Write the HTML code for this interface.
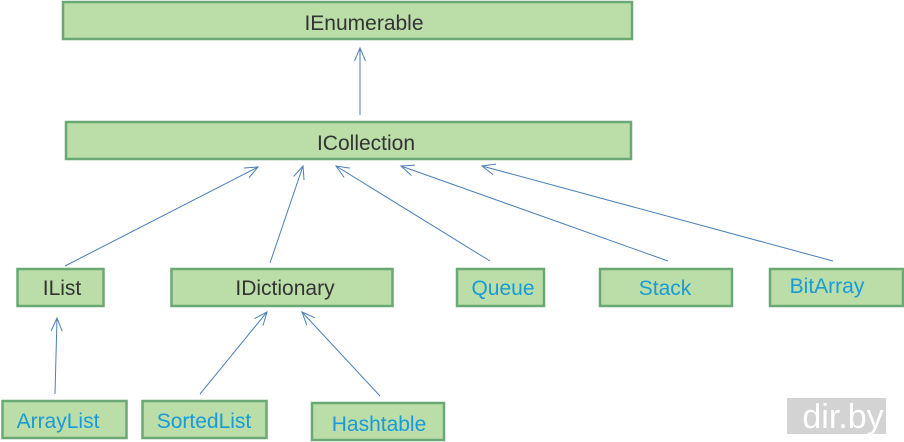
<!DOCTYPE html>
<html><head><meta charset="utf-8"><style>
html,body{margin:0;padding:0;background:#fff;}
svg{display:block;}
text{font-family:"Liberation Sans",Arial,sans-serif;font-size:21px;}
</style></head><body>
<svg width="904" height="442" viewBox="0 0 904 442" xmlns="http://www.w3.org/2000/svg">
<defs>
<marker id="a" markerUnits="userSpaceOnUse" markerWidth="16" markerHeight="16" refX="13" refY="6" orient="auto">
<path d="M0,0.5 L13,6 L0,11.5" fill="none" stroke="#4a7fb8" stroke-width="1"/>
</marker>
</defs>
<g fill="#bbdda7" stroke="#6aa874" stroke-width="2.5">
<rect x="63" y="2" width="569" height="37"/>
<rect x="66" y="122" width="565" height="37"/>
<rect x="17.5" y="269" width="86" height="37"/>
<rect x="171.5" y="269" width="221" height="37"/>
<rect x="457" y="269" width="87" height="37"/>
<rect x="600" y="269" width="132" height="37"/>
<rect x="770" y="269" width="133" height="37"/>
<rect x="2.5" y="401" width="124" height="37"/>
<rect x="142.5" y="401" width="124" height="37"/>
<rect x="312" y="403" width="132" height="37"/>
</g>
<g stroke="#4a7fb8" stroke-width="1" fill="none" marker-end="url(#a)">
<line x1="360" y1="115" x2="360" y2="48"/>
<line x1="65" y1="266" x2="258" y2="167"/>
<line x1="270" y1="263" x2="303" y2="166"/>
<line x1="490" y1="261" x2="336" y2="166"/>
<line x1="668" y1="261" x2="401" y2="166"/>
<line x1="833" y1="261" x2="482" y2="166"/>
<line x1="55" y1="394" x2="57" y2="318"/>
<line x1="200" y1="394" x2="267" y2="312"/>
<line x1="380" y1="396" x2="302" y2="312"/>
</g>
<g fill="#333" text-anchor="middle">
<text x="364" y="30">IEnumerable</text>
<text x="366" y="150">ICollection</text>
<text x="62" y="295">IList</text>
<text x="285" y="295">IDictionary</text>
</g>
<g fill="#1a9ad6" text-anchor="middle">
<text x="503" y="295">Queue</text>
<text x="665" y="295">Stack</text>
<text x="827" y="293">BitArray</text>
<text x="58" y="428">ArrayList</text>
<text x="204" y="428">SortedList</text>
<text x="379" y="431">Hashtable</text>
</g>
<rect x="787" y="398" width="99" height="36" fill="#d3d3d3"/>
<text x="843" y="428" fill="#fff" text-anchor="middle" style="font-size:34px">dir.by</text>
</svg>
</body></html>
